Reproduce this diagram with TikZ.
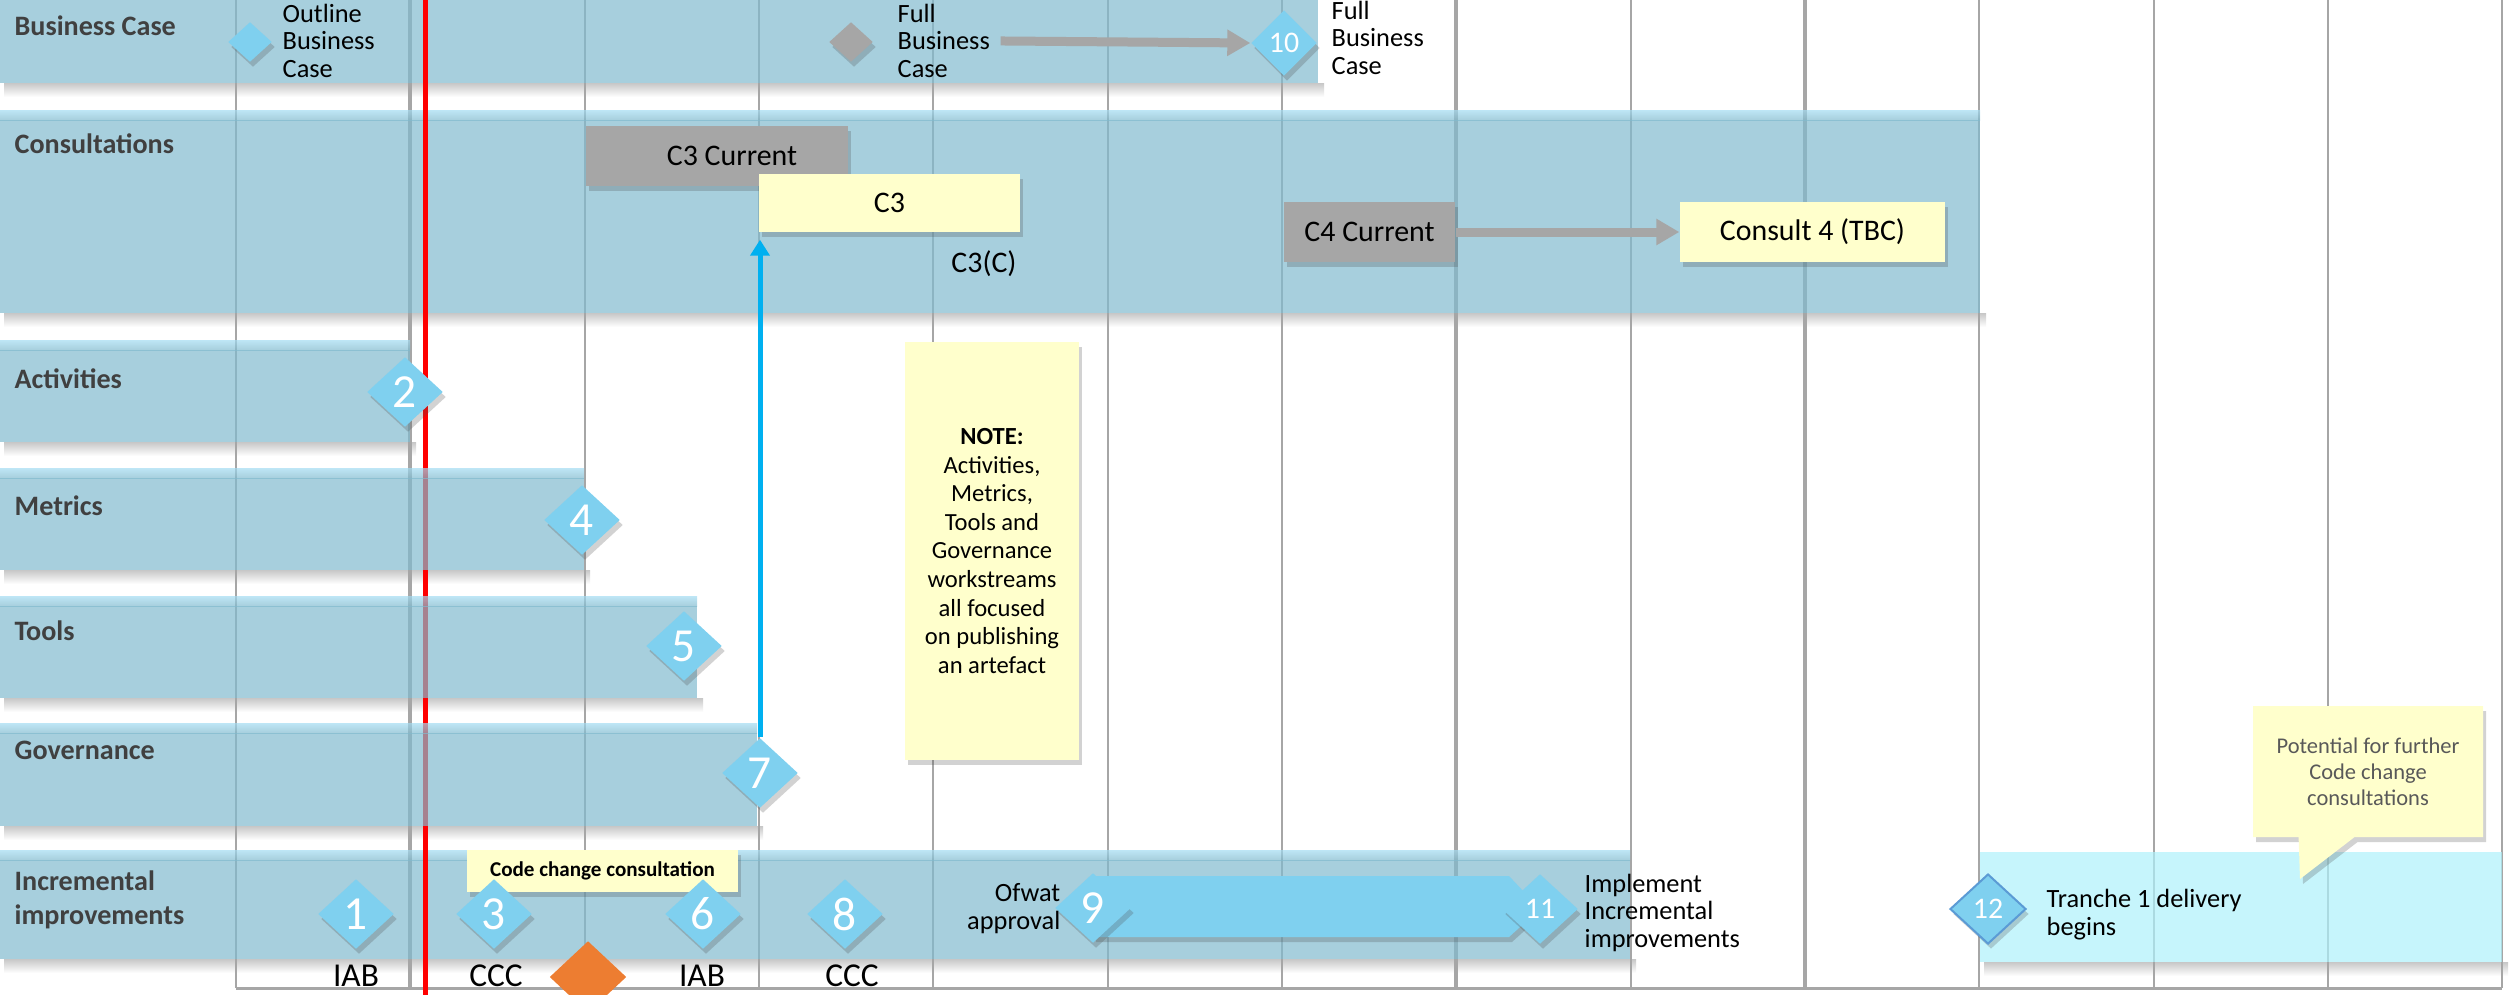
\documentclass[tikz,border=0pt]{standalone}
\usepackage{fontspec}
\setmainfont{Carlito}
\usetikzlibrary{shapes.geometric,shapes.callouts,shadows,arrows.meta,calc}
\definecolor{bandc}{RGB}{129,186,206}
\definecolor{stripc}{RGB}{162,219,242}
\definecolor{trc}{RGB}{174,241,251}
\definecolor{diamc}{RGB}{127,208,239}
\definecolor{notec}{RGB}{255,255,204}
\definecolor{greyc}{RGB}{166,166,166}
\definecolor{gridc}{RGB}{166,166,166}
\definecolor{orangec}{RGB}{237,125,49}
\definecolor{arrowc}{RGB}{0,176,240}
\definecolor{lanec}{RGB}{64,64,64}
\definecolor{callc}{RGB}{89,89,89}
\definecolor{edgec}{RGB}{91,155,213}
\definecolor{redc}{RGB}{255,0,0}
\begin{document}
\begin{tikzpicture}[x=0.1mm,y=-0.1mm,
  lanelabel/.style={anchor=base west,inner sep=0pt,text=lanec,align=left,font=\fontsize{8}{9.4}\selectfont\bfseries},
  bandbody/.style={fill=bandc,fill opacity=0.7},
  bandstrip/.style={top color=stripc,bottom color=bandc,opacity=0.7},
  bandshadow/.style={top color=black!22,bottom color=white},
  gridthin/.style={draw=gridc,line width=0.2mm},
  gridthick/.style={draw=gridc,line width=0.4mm},
  redline/.style={draw=redc,line width=0.5mm},
  bshadow/.style={drop shadow={shadow xshift=0.3mm,shadow yshift=-0.5mm,opacity=0.25,fill=black!70}},
  milestone/.style={diamond,fill=diamc,inner sep=0pt,minimum width=7.6mm,minimum height=7mm,text=white,font=\fontsize{13.5}{13.5}\selectfont,bshadow},
  smallmile/.style={milestone,font=\fontsize{8.5}{8.5}\selectfont},
  marker/.style={diamond,inner sep=0pt,minimum width=4.4mm,minimum height=4mm,bshadow},
  greybox/.style={fill=greyc,inner sep=0pt,font=\fontsize{8.5}{10}\selectfont,bshadow},
  yellowbox/.style={fill=notec,inner sep=0pt,font=\fontsize{8.5}{10}\selectfont,bshadow},
  tx/.style={anchor=base west,inner sep=0pt,align=left,font=\fontsize{7.5}{7.7}\selectfont},
  under/.style={anchor=base,inner sep=0pt,font=\fontsize{9.5}{9.5}\selectfont},
  greyarrow/.style={draw=greyc,line width=0.9mm,-{Triangle[length=2.3mm,width=2.5mm]}},
  bluearrow/.style={draw=arrowc,line width=0.5mm,-{Triangle[length=1.6mm,width=1.9mm]}}
]
\useasboundingbox (0,0) rectangle (2509,995);
% band shadows
\foreach \xa/\xb/\yb in {0/1318/83,0/1980/313,0/410/442,0/584/570,0/697/698,0/757/826,0/1630/959,1980/2502/962}{
  \shade[bandshadow] (\xa+4,\yb) rectangle (\xb+6,\yb+14);
}
% grid
\foreach \k in {0,...,13}{
  \draw[gridthin] ({236+174.33*\k},0) -- ({236+174.33*\k},988);
}
\foreach \k in {1,7,9}{
  \draw[gridthick] ({236+174.33*\k},0) -- ({236+174.33*\k},988);
}
\draw[draw=gridc,line width=0.3mm] (236,988) -- (2502,988);
\draw[redline] (425,0) -- (425,995);
% bands
\fill[bandbody] (0,0) rectangle (1318,83);
\foreach \xa/\ya/\xb/\yb in {0/110/1980/313,0/340/410/442,0/468/584/570,0/596/697/698,0/723/757/826,0/850/1630/959}{
  \fill[bandbody] (\xa,\ya+10) rectangle (\xb,\yb);
  \shade[bandstrip] (\xa,\ya) rectangle (\xb,\ya+10);
}
\fill[trc,fill opacity=0.7] (1980,852) rectangle (2502,962);
\draw[redline] (425,0) -- (425,466);
\draw[redline] (425,828) -- (425,995);
% lane labels
\node[lanelabel] (lbc) at (14,35) {Business Case};
\node[lanelabel] (lcons) at (14,153) {Consultations};
\node[lanelabel] (lact) at (14,388) {Activities};
\node[lanelabel] (lmet) at (14,515) {Metrics};
\node[lanelabel] (ltools) at (14,640) {Tools};
\node[lanelabel] (lgov) at (14,759) {Governance};
\node[lanelabel] (linc) at (14,924) {Incremental\\improvements};
% business case
\node[marker,fill=diamc] (dob) at (250,42) {};
\node[tx] (obc) at (282,77) {Outline\\Business\\Case};
\node[marker,fill=greyc] (dfb) at (851,42) {};
\node[tx] (fbc) at (897,77) {Full\\Business\\Case};
\node[smallmile,minimum width=6.6mm,minimum height=6.6mm] (d10) at (1284,43) {10};
\draw[greyarrow,shorten <=1mm] (fbc.east) -- (d10.west);
\node[tx] (fbc2) at (1331,74) {Full\\Business\\Case};
% consultations
\node[greybox,minimum width=26.2mm,minimum height=6mm] (c3cur) at (717,156) {\hspace*{3mm}C3 Current};
\node[yellowbox,minimum width=26.1mm,minimum height=5.8mm] (c3) at (889.5,203) {C3};
\node[anchor=base,inner sep=0pt,font=\fontsize{8.5}{10}\selectfont] (c3c) at (984,272) {C3(C)};
\node[greybox,minimum width=17.1mm,minimum height=6mm] (c4cur) at (1369.5,232) {C4 Current};
\node[yellowbox,minimum width=26.5mm,minimum height=6mm] (cons4) at (1812.5,232) {Consult 4 (TBC)};
\draw[greyarrow] (c4cur.east) -- (cons4.west);
% note
\node[yellowbox,minimum width=17.4mm,minimum height=41.8mm,align=center,font=\fontsize{7}{8.13}\selectfont] (note) at (992,551)
  {\textbf{NOTE:}\\Activities,\\Metrics,\\Tools and\\Governance\\workstreams\\all focused\\on publishing\\an artefact};
% workstream milestones
\node[milestone] (d2) at (405,392) {2};
\node[milestone] (d4) at (582,520) {4};
\node[milestone] (d5) at (684,646) {5};
\node[milestone] (d7) at (760,773) {7};
\draw[bluearrow,shorten >=0.7mm] (d7.north) -- (d7.north |- c3.south);
% incremental improvements
\node[yellowbox,minimum width=27.1mm,minimum height=4.2mm,font=\fontsize{6}{7}\selectfont\bfseries] (ccc) at (602.5,871) {Code change consultation};
\node[milestone] (d1) at (356,914) {1};
\node[milestone] (d3) at (494,914) {3};
\node[milestone] (d6) at (703,914) {6};
\node[milestone] (d8) at (845,914) {8};
\node[diamond,fill=orangec,inner sep=0pt,minimum width=7.7mm,minimum height=7.2mm] (dor) at (588,977) {};
\coordinate (b9) at (1093,908);
\coordinate (b11) at (1540,909);
\fill[diamc,bshadow] ($(b9)+(0,-32)$) -- ($(b11)+(-31,-33)$) -- (b11) -- ($(b11)+(-31,28)$) -- ($(b9)+(0,29)$) -- cycle;
\node[milestone] (d9) at (b9) {9};
\node[smallmile] (d11) at (b11) {11};
\node[tx,anchor=base east,align=right] (ofwat) at (1061,929) {Ofwat\\approval};
\node[tx] (impl) at (1584,947) {Implement\\Incremental\\improvements};
\node[smallmile,draw=edgec,line width=0.2mm] (d12) at (1988,909) {12};
\node[tx] (tr) at (2046,935) {Tranche 1 delivery\\begins};
\node[under] (iab1) at (356,986) {IAB};
\node[under] (ccc1) at (496,986) {CCC};
\node[under] (iab2) at (702,986) {IAB};
\node[under] (ccc2) at (852,986) {CCC};
% callout
\node[rectangle callout,fill=notec,inner sep=0pt,minimum width=23mm,minimum height=13.1mm,
  callout absolute pointer={(2300,879)},callout pointer width=5.6mm,bshadow,
  align=center,text=callc,font=\fontsize{6.4}{7.4}\selectfont] (pot) at (2368,771.5)
  {Potential for further\\Code change\\consultations};
\end{tikzpicture}
\end{document}
